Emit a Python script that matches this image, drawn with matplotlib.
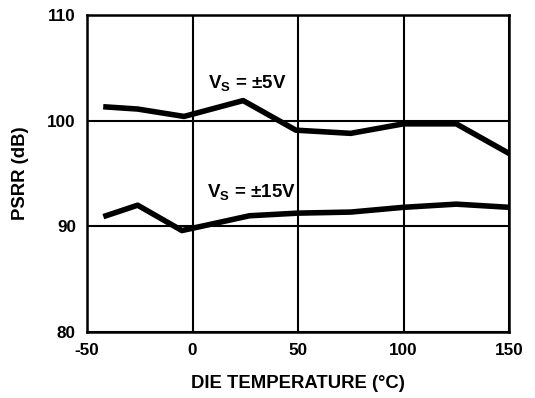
import numpy as np
import matplotlib
matplotlib.use("Agg")
import matplotlib.pyplot as plt

plt.rcParams['font.family'] = ['Liberation Sans', 'DejaVu Sans']
plt.rcParams['font.weight'] = 'bold'
plt.rcParams['axes.unicode_minus'] = False
plt.rcParams['mathtext.default'] = 'bf'

# PSRR vs die temperature
temp_5v = [-41, -26, -4, 24, 49, 75, 100, 125, 150]
psrr_5v = [101.3, 101.1, 100.4, 101.9, 99.1, 98.8, 99.7, 99.7, 96.9]

temp_15v = [-41, -26, -5, 27, 50, 75, 100, 125, 150]
psrr_15v = [91.0, 92.0, 89.6, 91.0, 91.25, 91.35, 91.8, 92.1, 91.8]

x_ticks = [-50, 0, 50, 100, 150]
y_ticks = [80, 90, 100, 110]

fig = plt.figure(figsize=(5.35, 3.98), dpi=100)
ax = fig.add_axes([87 / 535, 1 - 332 / 398, 422 / 535, 317 / 398])

ax.plot(temp_5v, psrr_5v, color='black', lw=4, solid_joinstyle='round')
ax.plot(temp_15v, psrr_15v, color='black', lw=4, solid_joinstyle='round')

ax.set_xlim(-50, 150)
ax.set_ylim(80, 110)
ax.set_xticks(x_ticks)
ax.set_yticks(y_ticks)
ax.grid(True, color='black', lw=1.5)
for s in ax.spines.values():
    s.set_linewidth(1.8)
ax.tick_params(length=0, labelsize=12.3, pad=8)

ax.set_xlabel('DIE TEMPERATURE (°C)', fontsize=13.3, fontweight='bold', labelpad=12)
ax.set_ylabel('PSRR (dB)', fontsize=13.3, fontweight='bold', labelpad=13)

ax.text(7.5, 103.0, r'V$_\mathregular{S}$ = ±5V', fontsize=13.5, fontweight='bold')
ax.text(7, 92.7, r'V$_\mathregular{S}$ = ±15V', fontsize=13.5, fontweight='bold')

fig.savefig('out.png', dpi=100)
